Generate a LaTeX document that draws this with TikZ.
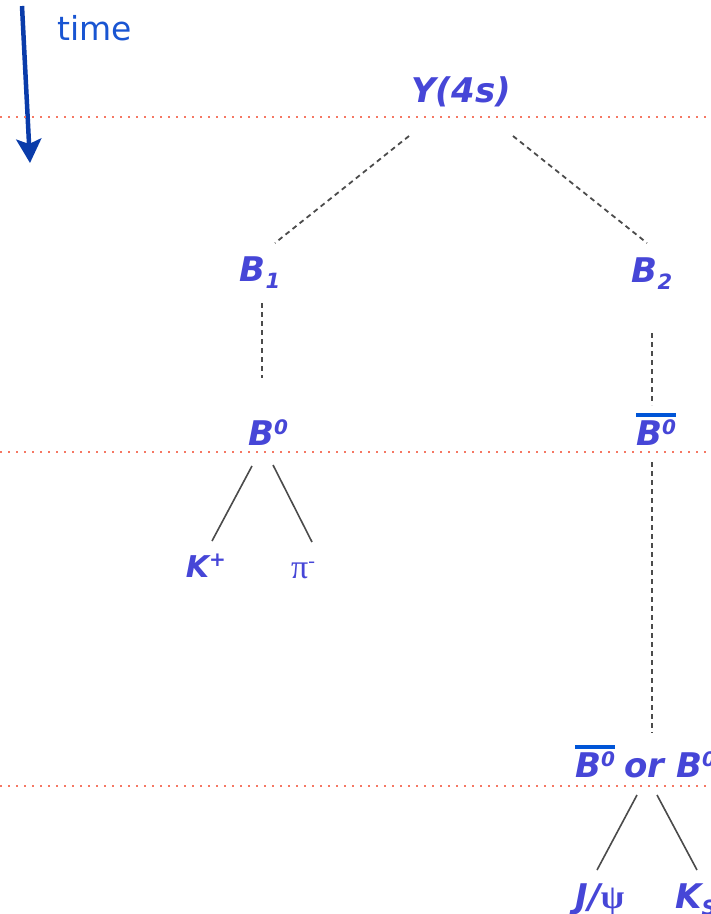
\documentclass[tikz,border=0pt]{standalone}
\usepackage{fontspec}
\setsansfont{DejaVu Sans}
\newfontfamily\greekfont{Liberation Serif}
\usetikzlibrary{arrows.meta,calc}
\definecolor{partblue}{RGB}{70,70,215}
\definecolor{timeblue}{RGB}{25,85,210}
\definecolor{arrowblue}{RGB}{10,60,170}
\definecolor{barblue}{RGB}{0,85,215}
\definecolor{cutred}{RGB}{245,120,100}
\definecolor{lineGray}{RGB}{75,75,75}
% sub- and superscripts of the particle names
\newcommand\partsub[1]{\raisebox{-7pt}{\fontsize{21}{21}\selectfont #1}}
\newcommand\partsup[1]{\raisebox{11pt}{\fontsize{20}{20}\selectfont #1}}
% bar over an anti-particle
\newcommand\antibar[1]{\setbox0\hbox{#1}\rlap{\raisebox{28pt}{\textcolor{barblue}{\rule{\wd0}{4pt}}}}\box0}
\begin{document}
\begin{tikzpicture}[x=1pt,y=-1pt]
  \tikzset{part/.style={inner sep=0pt, anchor=base, text=partblue,
      font=\fontsize{34}{34}\sffamily\bfseries\itshape},
    decay/.style={draw=lineGray, line width=1.8pt, dash pattern=on 5pt off 4pt},
    prong/.style={draw=lineGray, line width=1.6pt},
    cut/.style={draw=cutred, line width=2.2pt, dash pattern=on 2pt off 6pt}}
  \useasboundingbox (0,0) rectangle (711,914);
  \clip (0,0) rectangle (711,914);
  % time axis
  \coordinate (t0) at (22,6);
  \coordinate (t1) at (30,163);
  \draw[arrowblue, line width=4.5pt, -{Stealth[length=24pt,width=25pt,inset=5pt]}] (t0) -- (t1);
  \node[inner sep=0pt, anchor=base west, text=timeblue,
    font=\fontsize{33}{33}\sffamily] (time) at (57,40) {time};
  % time slices
  \draw[cut] (0,117) -- (711,117);
  \draw[cut] (0,452) -- (711,452);
  \draw[cut] (0,786) -- (711,786);
  % particles
  \node[part] (ups) at (461,102) {Y(4s)};
  \node[part] (b1) at (260,281) {B\partsub{1}};
  \node[part] (b2) at (652,282) {B\partsub{2}};
  \node[part] (b0) at (268,445) {B\partsup{0}};
  \node[part] (bbar) at (656,445) {\antibar{B\partsup{0}}};
  \node[part, anchor=base west] (mix) at (575,777) {\antibar{B\partsup{0}}\hspace{9pt}or\hspace{12pt}B\partsup{0}};
  \node[part, font=\fontsize{30}{30}\sffamily\bfseries\itshape] (kplus) at (206,577) {K\partsup{+}};
  \node[part, font=\fontsize{34}{34}\greekfont] (piminus) at (303,578) {π\partsup{-}};
  \node[part] (jpsi) at (600,908) {J/{\greekfont\upshape ψ}};
  \node[part, anchor=base west] (ks) at (675,908) {K\partsub{S}};
  % B pair
  \draw[decay] ($(ups.base)+(-52,34)$) -- ($(b1.base)+(15,-38)$);
  \draw[decay] ($(ups.base)+(52,34)$) -- ($(b2.base)+(-5,-39)$);
  \draw[decay] ($(b1.base)+(2,22)$) -- ($(b0.base)+(-6,-67)$);
  \draw[decay] ($(b2.base)+(0,51)$) -- ($(bbar.base)+(-4,-40)$);
  \draw[decay] ($(bbar.base)+(-4,17)$) -- ($(mix.base west)+(77,-44)$);
  % final states
  \draw[prong] ($(b0.base)+(-16,21)$) -- ($(kplus.base)+(6,-36)$);
  \draw[prong] ($(b0.base)+(5,20)$) -- ($(piminus.base)+(9,-36)$);
  \draw[prong] ($(mix.base west)+(62,18)$) -- ($(jpsi.base)+(-3,-38)$);
  \draw[prong] ($(mix.base west)+(82,18)$) -- ($(ks.base west)+(22,-38)$);
\end{tikzpicture}
\end{document}
